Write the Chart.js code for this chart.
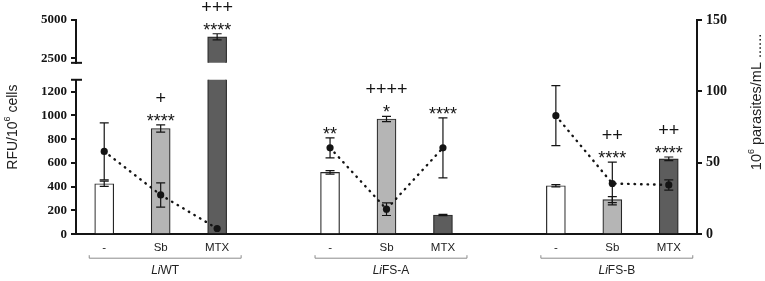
<!DOCTYPE html>
<html>
<head>
<meta charset="utf-8">
<script src="https://cdn.jsdelivr.net/npm/chart.js@4"></script>
<style>
html,body{margin:0;padding:0;background:#fff;}
#wrap{width:765px;height:281px;}
</style>
</head>
<body>
<div id="wrap"><canvas id="chart" width="765" height="281"></canvas></div>
<script>
// --- Data ---
const categories   = ['-', 'Sb', 'MTX', '', '-', 'Sb', 'MTX', '', '-', 'Sb', 'MTX'];
const rfuMean      = [425, 890, 3900, null, 520, 970, 162, null, 408, 291, 635];
const rfuSd        = [22, 30, 200, null, 15, 22, 5, null, 10, 25, 15];
const parasiteMean = [58, 27.5, 4, null, 60.5, 17.5, 60.5, null, 83, 35.5, 34.5];
const parasiteSd   = [20, 8.5, 0, null, 7, 4.4, 21, null, 21, 15, 3.6];
const starMarks    = ['', '****', '****', '', '**', '*', '****', '', '', '****', '****'];
const plusMarks    = ['', '+', '+++', '', '', '++++', '', '', '', '++', '++'];
const groupNames   = ['WT', 'FS-A', 'FS-B'];
const groupStart   = [0, 4, 8];
const lowTicks     = [0, 200, 400, 600, 800, 1000, 1200];
const highTicks    = [2500, 5000];
const rightTicks   = [0, 50, 100, 150];

// --- Axis break ---
const LOW_MAX = 1300, HIGH_MIN = 2200, HIGH_MAX = 5000;

// --- Style ---
const INK = '#141414';
const fillByTreatment = { '-': '#ffffff', 'Sb': '#b5b5b5', 'MTX': '#5d5d5d' };
const barFill = categories.map(c => fillByTreatment[c] || 'rgba(0,0,0,0)');
const tickFontL = { family: 'Liberation Serif', size: 13, weight: 'bold' };
const tickFontR = { family: 'Liberation Serif', size: 14, weight: 'bold' };

function setTicks(list){ return s => { s.ticks = list.map(v => ({ value: v })); }; }

function leftAxis(extra){
  return Object.assign({
    type: 'linear', position: 'left', stack: 'rfu',
    grid: { drawOnChartArea: false, drawTicks: true, tickLength: 5, color: INK, lineWidth: 2 },
    border: { color: INK, width: 2 },
    ticks: { padding: 4, color: INK, font: tickFontL, autoSkip: false, callback: v => String(v) }
  }, extra);
}

// draws base + superscript + tail centred on (0,0)
function drawSupText(ctx, base, sup, tail, size){
  const f = `${size}px "Liberation Sans", Arial, sans-serif`;
  const fs = `${Math.round(size*0.62)}px "Liberation Sans", Arial, sans-serif`;
  ctx.font = f; const w1 = ctx.measureText(base).width, w3 = ctx.measureText(tail).width;
  ctx.font = fs; const w2 = ctx.measureText(sup).width;
  let x = -(w1+w2+w3)/2;
  ctx.textBaseline = 'middle'; ctx.textAlign = 'left';
  ctx.font = f; ctx.fillText(base, x, 0); x += w1;
  ctx.font = fs; ctx.fillText(sup, x, -size*0.38); x += w2;
  ctx.font = f; ctx.fillText(tail, x, 0);
}

const decor = {
  id: 'decor',
  afterDatasetsDraw(chart){
    const { ctx, scales } = chart;
    const x = scales.x, yLo = scales.yLo, yHi = scales.yHi, yR = scales.yR;
    const cap = 4.5;
    ctx.save();
    ctx.strokeStyle = INK; ctx.lineWidth = 1.2;
    const errBar = (px, top, bot) => {
      ctx.beginPath();
      ctx.moveTo(px, top); ctx.lineTo(px, bot);
      ctx.moveTo(px-cap, top); ctx.lineTo(px+cap, top);
      ctx.moveTo(px-cap, bot); ctx.lineTo(px+cap, bot);
      ctx.stroke();
    };
    const anchor = [];
    rfuMean.forEach((v, i) => {
      if(v == null) return;
      const s = v > HIGH_MIN ? yHi : yLo;
      const px = x.getPixelForValue(i);
      const t = s.getPixelForValue(v + rfuSd[i]);
      errBar(px, t, s.getPixelForValue(v - rfuSd[i]));
      anchor[i] = t;
    });
    parasiteMean.forEach((v, i) => {
      if(v == null || !parasiteSd[i]) return;
      const px = x.getPixelForValue(i);
      const t = yR.getPixelForValue(v + parasiteSd[i]);
      errBar(px, t, yR.getPixelForValue(v - parasiteSd[i]));
      anchor[i] = Math.min(anchor[i] ?? 1e9, t);
    });
    // significance marks
    ctx.fillStyle = INK; ctx.textAlign = 'center'; ctx.textBaseline = 'alphabetic';
    categories.forEach((c, i) => {
      if(anchor[i] == null) return;
      const px = x.getPixelForValue(i);
      if(starMarks[i]){
        ctx.font = '18px "Liberation Sans", Arial, sans-serif';
        ctx.fillText(starMarks[i], px, anchor[i] + 2);
      }
      if(plusMarks[i]){
        ctx.font = '18px "Liberation Sans", Arial, sans-serif';
        ctx.fillText(plusMarks[i], px, Math.max(13, anchor[i] - (starMarks[i] ? 21 : 4)));
      }
    });
    ctx.restore();
  },
  afterDraw(chart){
    const { ctx, scales, chartArea } = chart;
    const x = scales.x, yLo = scales.yLo, yHi = scales.yHi;
    ctx.save();
    // break marks on the left axis
    ctx.strokeStyle = INK; ctx.lineWidth = 2;
    const ax = yLo.right;
    [yLo.top, yHi.bottom].forEach(py => {
      ctx.beginPath(); ctx.moveTo(ax-5, py); ctx.lineTo(ax+6, py); ctx.stroke();
    });
    // group brackets and names
    groupNames.forEach((g, k) => {
      const x0 = x.getPixelForValue(groupStart[k]) - 15;
      const x1 = x.getPixelForValue(groupStart[k] + 2) + 24;
      const by = chartArea.bottom + 24;
      ctx.strokeStyle = '#8c8c8c'; ctx.lineWidth = 1;
      ctx.beginPath();
      ctx.moveTo(x0, by-3); ctx.lineTo(x0, by); ctx.lineTo(x1, by); ctx.lineTo(x1, by-3);
      ctx.stroke();
      const cx = (x0 + x1) / 2, cy = chartArea.bottom + 36;
      ctx.fillStyle = '#222'; ctx.textBaseline = 'middle'; ctx.textAlign = 'left';
      const fi = 'italic 12px "Liberation Sans", Arial, sans-serif';
      const fn = '12px "Liberation Sans", Arial, sans-serif';
      ctx.font = fi; const wi = ctx.measureText('Li').width;
      ctx.font = fn; const wn = ctx.measureText(g).width;
      let tx = cx - (wi + wn) / 2;
      ctx.font = fi; ctx.fillText('Li', tx, cy);
      ctx.font = fn; ctx.fillText(g, tx + wi, cy);
    });
    // axis titles
    ctx.fillStyle = '#222';
    ctx.save();
    ctx.translate(13, (chartArea.top + chartArea.bottom) / 2);
    ctx.rotate(-Math.PI / 2);
    drawSupText(ctx, 'RFU/10', '6', ' cells', 14);
    ctx.restore();
    ctx.save();
    ctx.translate(757, chartArea.top + 82);
    ctx.rotate(-Math.PI / 2);
    drawSupText(ctx, '10', '6', ' parasites/mL ......', 14.5);
    ctx.restore();
    ctx.restore();
  }
};

const chart = new Chart(document.getElementById('chart'), {
  type: 'bar',
  data: {
    labels: categories,
    datasets: [
      {
        type: 'line', label: 'parasites', data: parasiteMean, yAxisID: 'yR', xAxisID: 'x',
        borderColor: INK, borderWidth: 2.4, borderDash: [0.5, 6], borderCapStyle: 'round',
        pointRadius: 3.6, pointBackgroundColor: INK, pointBorderWidth: 0,
        fill: false, spanGaps: false, tension: 0, order: 0
      },
      {
        label: 'RFU', data: rfuMean, yAxisID: 'yLo', grouped: false,
        backgroundColor: barFill, borderColor: '#262626', borderWidth: 1.2, barThickness: 19, order: 2
      },
      {
        label: 'RFU high', data: rfuMean.map(v => v != null && v > HIGH_MIN ? v : null), yAxisID: 'yHi', grouped: false,
        backgroundColor: barFill, borderColor: '#262626', borderWidth: 1.2, barThickness: 19, order: 2
      }
    ]
  },
  options: {
    responsive: false, animation: false,
    layout: { padding: { left: 37, right: 34, top: 20, bottom: 19 } },
    plugins: { legend: { display: false }, tooltip: { enabled: false } },
    scales: {
      x: {
        type: 'category', offset: true,
        grid: { display: false, drawTicks: false },
        border: { display: true, color: INK, width: 2 },
        ticks: { padding: 7, color: '#222', font: { family: 'Liberation Sans', size: 11.5 } }
      },
      yLo: leftAxis({ stackWeight: 155, min: 0, max: LOW_MAX, afterBuildTicks: setTicks(lowTicks) }),
      yGap: { type: 'linear', position: 'left', stack: 'rfu', stackWeight: 17, display: false },
      yHi: leftAxis({ stackWeight: 43, min: HIGH_MIN, max: HIGH_MAX, afterBuildTicks: setTicks(highTicks) }),
      yR: {
        type: 'linear', position: 'right', min: 0, max: 150, afterBuildTicks: setTicks(rightTicks),
        grid: { drawOnChartArea: false, drawTicks: true, tickLength: 5, color: INK, lineWidth: 2 },
        border: { color: INK, width: 2 },
        ticks: { padding: 4, color: INK, font: tickFontR, autoSkip: false, callback: v => String(v) }
      }
    }
  },
  plugins: [decor]
});
</script>
</body>
</html>
